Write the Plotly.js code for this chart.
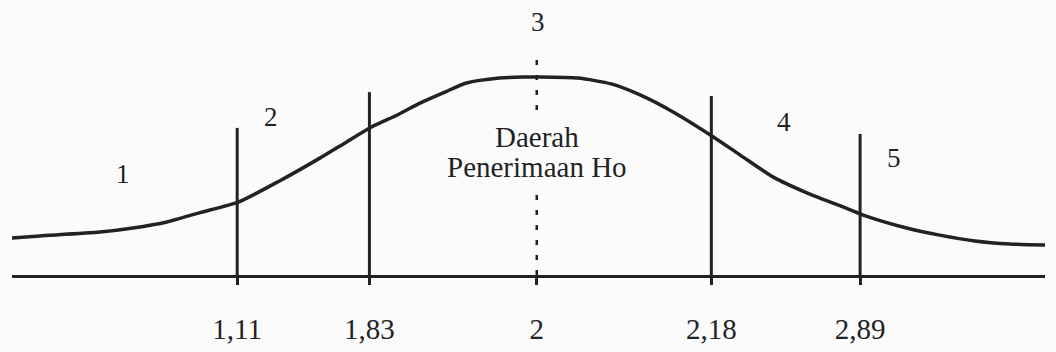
<!DOCTYPE html>
<html>
<head>
<meta charset="utf-8">
<script src="https://cdn.plot.ly/plotly-3.0.1.min.js"></script>
<style>
  html, body { margin: 0; padding: 0; background: #fbfbfb; }
  #chart { width: 1056px; height: 352px; }
</style>
</head>
<body>
<div id="chart"></div>
<script>
// position along the axis (0-100) and curve height
var curveX = [0, 2.7, 8.5, 11.7, 15.0, 18.2, 21.9, 25.9, 29.8, 32.4, 34.8, 37.3, 39.5, 41.9, 44.0, 47.2, 49.5,
  50.9, 54.8, 58.0, 60.8, 64.0, 67.9, 70.5, 73.7, 77.0, 80.2, 82.4, 86.6, 89.8, 93.2, 96.6, 100];
var curveY = [13.5, 14.2, 15.6, 17.1, 19.3, 22.7, 26.5, 34.2, 42.5, 48.4, 53.8, 58.2, 62.5, 66.5, 69.8, 71.6, 72.0,
  72.0, 71.6, 69.5, 65.5, 59.3, 50.2, 43.6, 35.6, 29.8, 25.1, 21.8, 17.1, 14.5, 12.4, 11.3, 10.9];

// critical values and where they sit on the axis
var tickLabels = ['1,11', '1,83', '2', '2,18', '2,89'];
var tickPos = [21.8, 34.6, 50.8, 67.7, 82.1];
var lineTop = [53.5, 66.5, 78.9, 65.1, 51.3];

// region numbers
var regionText = ['1', '2', '3', '4', '5'];
var regionX = [10.7, 25.1, 50.9, 74.7, 85.4];
var regionY = [36.7, 57.5, 92, 55.6, 42.5];

var ink = '#1f2326';
var paper = '#fbfbfb';
var serif = 'Liberation Serif, Times New Roman, serif';

var data = [];

tickPos.forEach(function (x, i) {
  data.push({
    x: [x, x],
    y: [0, lineTop[i]],
    mode: 'lines',
    line: {color: ink, width: i === 2 ? 2.5 : 3, dash: i === 2 ? '5px,10px' : 'solid'},
    hoverinfo: 'skip'
  });
});

data.push({
  x: curveX,
  y: curveY,
  mode: 'lines',
  line: {color: ink, width: 3.5, shape: 'spline', smoothing: 0.6},
  hoverinfo: 'skip'
});

var annotations = regionText.map(function (t, i) {
  return {
    x: regionX[i], y: regionY[i], text: t, showarrow: false,
    font: {family: serif, size: 27, color: ink}
  };
});
// the label sits over the dashed middle line
annotations.push({
  x: 50.8, y: 50.2, text: 'Daerah', showarrow: false, bgcolor: paper, borderpad: 2,
  font: {family: serif, size: 29, color: ink}
});
annotations.push({
  x: 50.8, y: 39.3, text: 'Penerimaan Ho', showarrow: false, bgcolor: paper, borderpad: 2,
  font: {family: serif, size: 29, color: ink}
});

var layout = {
  width: 1056,
  height: 352,
  margin: {l: 12, r: 11, t: 0, b: 77},
  paper_bgcolor: paper,
  plot_bgcolor: paper,
  showlegend: false,
  xaxis: {
    range: [0, 100],
    showgrid: false,
    zeroline: false,
    showline: true,
    linecolor: ink,
    linewidth: 3,
    tickvals: tickPos,
    ticktext: tickLabels,
    ticks: 'outside',
    ticklen: 7,
    tickwidth: 3,
    tickcolor: ink,
    ticklabelstandoff: 19,
    tickfont: {family: serif, size: 29, color: ink},
    fixedrange: true
  },
  yaxis: {
    range: [0, 100],
    visible: false,
    fixedrange: true
  },
  annotations: annotations
};

Plotly.newPlot('chart', data, layout, {displayModeBar: false, staticPlot: true});
</script>
</body>
</html>
